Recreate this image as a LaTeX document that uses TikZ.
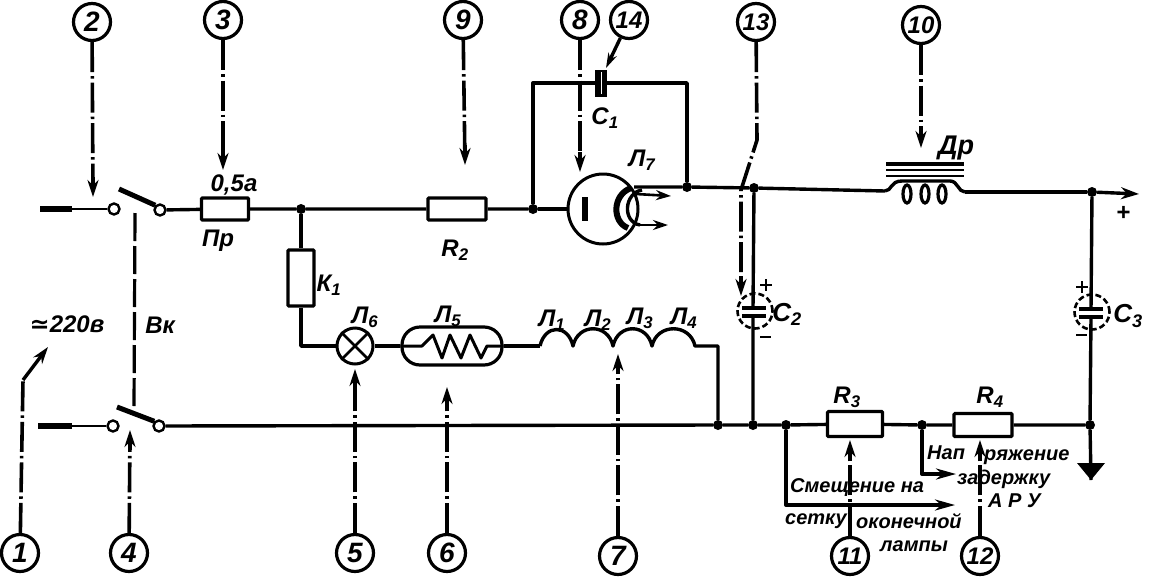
\documentclass[tikz,border=0pt]{standalone}
\usepackage{fontspec}
\setmainfont{Liberation Sans}
\newfontfamily\symfont{DejaVu Sans}
\usetikzlibrary{arrows.meta,shapes.geometric}
\tikzset{
 wire/.style={line width=3.4pt,line join=round},
 thinwire/.style={line width=2.6pt},
 feed/.style={line width=6.5pt},
 dot/.style={circle,fill=black,inner sep=0pt,minimum size=10pt},
 contact/.style={circle,draw,line width=2.4pt,fill=white,inner sep=0pt,minimum size=11pt},
 blade/.style={line width=5pt},
 box/.style={rectangle,draw,line width=3.2pt,fill=white,inner sep=0pt,rounded corners=1pt},
 callout/.style={circle,draw,line width=3.2pt,fill=white,inner sep=0pt,minimum size=37pt,font=\fontsize{28}{28}\selectfont\bfseries\itshape},
 callsmall/.style={callout,font=\fontsize{24}{24}\selectfont\bfseries\itshape},
 pointer/.style={line width=3.6pt,dash pattern=on 30pt off 4pt on 2.5pt off 4pt,shorten >=16pt},
 tiponly/.style={line width=3.4pt,-{Stealth[length=17pt,width=11pt]}},
 lab/.style={inner sep=0pt,font=\fontsize{24}{24}\selectfont\bfseries\itshape},
 smalllab/.style={inner sep=0pt,font=\fontsize{20}{20}\selectfont\bfseries\itshape},
 plate/.style={line width=3.6pt},
 halo/.style={circle,draw,line width=2.6pt,inner sep=0pt,minimum size=35pt,dash pattern=on 6pt off 3pt},
}
\newcommand\callarrow[3]{\draw[pointer] (#1) -- (#2); \draw[tiponly] (#2) ++(#3) -- (#2);}
\begin{document}
\begin{tikzpicture}[x=1pt,y=-1pt]
\useasboundingbox (0,0) rectangle (1156,579);
% junctions and points
\node[dot] (ja) at (301,209) {};
\node[dot] (jb) at (533,209) {};
\node[dot] (jc) at (687,187) {};
\node[dot] (jd) at (754,188) {};
\node[dot] (je) at (1092,192) {};
\node[dot] (jf) at (718,425) {};
\node[dot] (jg) at (753,425) {};
\node[dot] (jh) at (786,425) {};
\node[dot] (ji) at (922,425) {};
\node[dot] (jj) at (1090,425) {};
% top line
\coordinate (ta) at (40,209); \coordinate (tb) at (72,209);
\node[contact] (s1) at (114,209) {};
\node[contact] (s2) at (160,210) {};
\node[box,minimum width=47pt,minimum height=22pt] (fuse) at (225,209) {};
\node[box,minimum width=58pt,minimum height=22pt] (r2) at (457,209) {};
\draw[feed] (ta) -- (tb);
\draw[thinwire] (tb) -- (s1);
\draw[blade] (119,189) -- (s2.north west);
\draw[wire] (s2) -- (fuse) (fuse) -- (ja) -- (r2) (r2) -- (jb);
% tube
\node[circle,draw,line width=3pt,inner sep=0pt,minimum size=70pt] (tube) at (603,209) {};
\draw[wire] (jb) -- (tube.west);
\draw[line width=6pt] (585,197) -- (585,221);
\draw[line width=6pt] (631,188) .. controls (612,195) and (612,222) .. (628,228);
\draw[wire] (642,190) .. controls (624,193) and (622,222) .. (640,225);
\coordinate (ar) at (671,196); \coordinate (ar2) at (668,225);
\draw[thinwire,-{Stealth[length=15pt,width=10pt]}] (636,194) -- (ar);
\draw[thinwire,-{Stealth[length=15pt,width=10pt]}] (636,225) -- (ar2);
\draw[wire] (634,187) -- (jc) -- (jd);
% C1 loop
\node[rectangle,fill=black,inner sep=0pt,minimum width=12pt,minimum height=27pt] (c1) at (601,83) {};
\draw[wire] (jb) |- (c1) (c1) -| (jc);
\draw[white,line width=1pt] (601,72) -- (601,94);
% choke
\coordinate (da) at (885,191); \coordinate (db) at (965,192);
\draw[wire] (jd) -- (da);
\draw[wire] (da) .. controls (892,191) and (890,181) .. (902,181) -- (950,181) .. controls (958,181) and (958,192) .. (db);
\foreach \x in {907,925,942}{\draw[line width=3.2pt] (\x,194) ellipse (4pt and 9pt);}
\draw[line width=3.4pt] (886,164) -- (964,164);
\draw[line width=2.4pt] (886,170) -- (964,170);
\draw[line width=2.4pt] (886,176) -- (964,176);
\coordinate (out) at (1139,194);
\draw[wire] (db) -- (je);
\draw[wire,-{Stealth[length=18pt,width=12pt]}] (je) -- (out);
% bottom line
\coordinate (ba) at (38,426); \coordinate (bb) at (72,426);
\node[contact] (s3) at (113,426) {};
\node[contact] (s4) at (159,426) {};
\draw[feed] (ba) -- (bb);
\draw[thinwire] (bb) -- (s3);
\draw[blade] (117,407) -- (s4.north west);
\draw[wire] (s4) -- (jf) -- (jg) -- (jh);
\node[box,minimum width=55pt,minimum height=25pt] (r3) at (855,424) {};
\node[box,minimum width=58pt,minimum height=23pt] (r4) at (983,425) {};
\draw[wire] (jh) -- (r3) (r3) -- (ji) -- (r4) (r4) -- (jj);
% mechanical link
\draw[line width=3.2pt,dash pattern=on 28pt off 5pt] (135,213) -- (134,408);
% heater chain
\node[box,minimum width=26pt,minimum height=56pt] (k1) at (301,278) {};
\node[circle,draw,line width=3pt,inner sep=0pt,minimum size=36pt,fill=white] (l6) at (355,346) {};
\draw[line width=2.8pt] (l6.north west) -- (l6.south east) (l6.north east) -- (l6.south west);
\node[rectangle,draw,line width=3.2pt,rounded corners=18pt,inner sep=0pt,minimum width=100pt,minimum height=38pt] (l5) at (452,346) {};
\draw[wire] (ja) -- (k1) (k1) |- (l6) (l6) -- (l5);
\draw[line width=3pt,line join=round] (l5.west) -- (422,346) -- (433,335) -- (442,358) -- (450,335) -- (461,358) -- (470,335) -- (481,358) -- (487,346) -- (l5.east);
\coordinate (ca) at (540,346); \coordinate (cb) at (573,346); \coordinate (cc) at (613,346); \coordinate (cd) at (652,346); \coordinate (ce) at (695,346); \coordinate (cf) at (718,346);
\draw[wire] (l5) -- (ca);
\draw[wire] (ca) .. controls (545,324) and (568,324) .. (cb) .. controls (578,323) and (608,323) .. (cc) .. controls (618,323) and (647,323) .. (cd) .. controls (657,323) and (690,323) .. (ce) -- (cf) -- (jf);
% C2
\node[halo] (hc2) at (755,311) {};
\draw[wire] (jd) -- (753,308) (753,316) -- (jg);
\draw[plate] (742,308) -- (766,308) (742,316) -- (766,316);
\draw[line width=2.4pt] (760,285) -- (772,285) (766,279) -- (766,291);
\draw[line width=2.8pt] (760,337) -- (771,337);
% C3
\node[halo] (hc3) at (1092,312) {};
\draw[wire] (je) -- (1091,309) (1091,317) -- (jj);
\draw[plate] (1079,309) -- (1103,309) (1079,317) -- (1103,317);
\draw[line width=2.4pt] (1076,287) -- (1088,287) (1082,281) -- (1082,293);
\draw[line width=2.8pt] (1076,335) -- (1087,335);
% ground
\coordinate (gnd) at (1091,480);
\draw[wire] (jj) -- (gnd);
\fill (1077,463) -- (1105,463) -- (gnd) -- cycle;
% outputs
\coordinate (o1) at (956,474); \coordinate (o2) at (955,505);
\draw[wire,-{Stealth[length=20pt,width=11pt]}] (ji) |- (o1);
\draw[wire,-{Stealth[length=20pt,width=11pt]}] (jh) |- (o2);
% callouts
\node[callout] (n1) at (20,553) {1};
\node[callout] (n2) at (92,22) {2};
\node[callout] (n3) at (223,20) {3};
\node[callout] (n4) at (129,553) {4};
\node[callout] (n5) at (355,553) {5};
\node[callout] (n6) at (447,553) {6};
\node[callout] (n7) at (618,556) {7};
\node[callout] (n8) at (580,20) {8};
\node[callout] (n9) at (463,20) {9};
\node[callsmall] (n10) at (921,25) {10};
\node[callsmall] (n11) at (850,556) {11};
\node[callsmall] (n12) at (980,556) {12};
\node[callsmall] (n13) at (756,22) {13};
\node[callsmall] (n14) at (629,20) {14};
\coordinate (p1) at (48,347); \coordinate (p1b) at (23,380);
\coordinate (p2) at (93,197); \coordinate (p3) at (223,170); \coordinate (p4) at (130,430);
\coordinate (p5) at (355,369); \coordinate (p6) at (447,387); \coordinate (p7) at (618,354);
\coordinate (p8) at (580,172); \coordinate (p9) at (465,165); \coordinate (p10) at (921,148);
\coordinate (p11) at (850,440); \coordinate (p12) at (980,440); \coordinate (p14) at (606,68);
\coordinate (p13a) at (757,140); \coordinate (p13b) at (741,190); \coordinate (p13) at (741,296);
\draw[pointer,shorten >=0pt] (n1) -- (p1b);
\draw[tiponly] (p1b) -- (p1);
\callarrow{n2}{p2}{0,-20}
\callarrow{n3}{p3}{0,-20}
\callarrow{n4}{p4}{0,20}
\callarrow{n5}{p5}{0,20}
\callarrow{n6}{p6}{0,20}
\callarrow{n7}{p7}{0,20}
\callarrow{n8}{p8}{0,-20}
\callarrow{n9}{p9}{0,-20}
\callarrow{n10}{p10}{0,-20}
\callarrow{n11}{p11}{0,20}
\callarrow{n12}{p12}{0,20}
\draw[pointer] (n13) -- (p13a) -- (p13b) -- (p13); \draw[tiponly] (p13) ++(0,-20) -- (p13);
\draw[wire,-{Stealth[length=15pt,width=9pt]}] (n14) -- (p14);
% labels
\node[lab] at (234,185) {0,5а};
\node[lab] at (218,241) {Пр};
\node[lab] at (455,250) {R\textsubscript{2}};
\node[lab] at (605,118) {С\textsubscript{1}};
\node[lab] at (642,160) {Л\textsubscript{7}};
\node[lab,font=\fontsize{27}{27}\selectfont\bfseries\itshape] at (956,148) {Др};
\node[lab] at (160,325) {Вк};
\node[lab] at (67,324) {{\symfont\bfseries ≃}220в};
\node[lab] at (329,285) {К\textsubscript{1}};
\node[lab] at (365,317) {Л\textsubscript{6}};
\node[lab] at (448,316) {Л\textsubscript{5}};
\node[lab] at (552,320) {Л\textsubscript{1}};
\node[lab] at (598,320) {Л\textsubscript{2}};
\node[lab] at (640,318) {Л\textsubscript{3}};
\node[lab] at (684,318) {Л\textsubscript{4}};
\node[lab,font=\fontsize{26}{26}\selectfont\bfseries\itshape] at (787,314) {С\textsubscript{2}};
\node[lab,font=\fontsize{26}{26}\selectfont\bfseries\itshape] at (1128,316) {С\textsubscript{3}};
\node[lab] at (847,397) {R\textsubscript{3}};
\node[lab] at (990,397) {R\textsubscript{4}};
\node[lab] at (1123,213) {+};
\node[smalllab,anchor=west] at (927,453) {Нап};
\node[smalllab,anchor=west] at (984,457) {ряжение};
\node[smalllab,anchor=west] at (957,479) {задержку};
\node[smalllab,anchor=west] at (988,501) {А Р У};
\node[smalllab,anchor=west] at (790,487) {Смещение на};
\node[smalllab,anchor=west] at (785,521) {сетку};
\node[smalllab,anchor=west] at (856,521) {оконечной};
\node[smalllab,anchor=west] at (880,546) {лампы};
\end{tikzpicture}
\end{document}
